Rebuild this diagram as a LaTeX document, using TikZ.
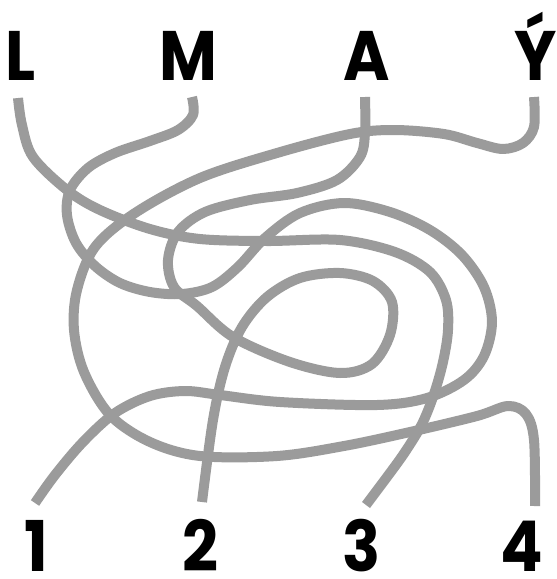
\documentclass[tikz,border=0pt]{standalone}
\usepackage{fontspec}
\setmainfont{Poppins}[BoldFont={* Bold}]
\definecolor{wire}{HTML}{9B9B9B}
\tikzset{
  wirepath/.style={draw=wire, line width=10pt, line join=round},
  lbl/.style={anchor=base, inner sep=0pt, font=\fontsize{70}{70}\selectfont\bfseries, xscale=0.9}
}
\begin{document}
\begin{tikzpicture}[x=1pt,y=-1pt]
\useasboundingbox (0,0) rectangle (557,579);
% labels
\node[lbl] (L) at (21,80) {L};
\node[lbl] (M) at (188,80) {M};
\node[lbl] (A) at (367,80) {A};
\node[lbl] (Y) at (536,80) {Ý};
\node[lbl] (n1) at (36,571) {1};
\node[lbl] (n2) at (200,571) {2};
\node[lbl] (n3) at (362,571) {3};
\node[lbl] (n4) at (522,571) {4};
% wire ends
\coordinate (sL) at (18,98);
\coordinate (sM) at (192,97);
\coordinate (sA) at (365,97);
\coordinate (sY) at (534,97);
\coordinate (e1) at (35,503);
\coordinate (e2) at (202,502);
\coordinate (e3) at (366,505);
\coordinate (e4) at (535,506);
% L -> 3
\draw[wirepath] plot[smooth, tension=0.55] coordinates {
 (sL) (22,125) (33,157) (67,190) (100,210) (150,229) (200,239) (267,241)
 (340,240) (395,252) (430,272) (446,300) (448,330) (443,362) (434,394)
 (422,424) (405,452) (387,477) (e3)};
% M -> 1
\draw[wirepath] plot[smooth, tension=0.55] coordinates {
 (sM) (193,115) (178,130) (150,141) (115,153) (88,168) (70,190) (67,215)
 (76,243) (95,266) (120,283) (150,292) (182,294) (212,287) (238,267)
 (265,238) (300,213) (344,203) (390,212) (430,230) (462,255) (484,287)
 (492,322) (484,356) (464,380) (427,398) (377,405) (280,402) (220,395)
 (185,391) (150,396) (115,413) (83,442) (55,475) (e1)};
% A -> 2
\draw[wirepath] plot[smooth, tension=0.55] coordinates {
 (sA) (365,133) (360,157) (337,180) (297,193) (250,200) (205,212) (178,232)
 (168,260) (174,287) (197,306) (233,337) (290,362) (340,373) (372,364)
 (390,335) (392,302) (373,281) (340,273) (300,278) (267,297) (242,327)
 (225,367) (213,420) (e2)};
% Y -> 4
\draw[wirepath] plot[smooth, tension=0.55] coordinates {
 (sY) (534,127) (523,143) (503,149) (477,143) (444,134) (394,130) (350,134)
 (277,153) (200,178) (135,213) (95,247) (77,290) (74,330) (84,372)
 (110,415) (150,442) (200,456) (277,456) (344,446) (410,432) (477,416)
 (508,406) (526,414) (534,440) (e4)};
\end{tikzpicture}
\end{document}
